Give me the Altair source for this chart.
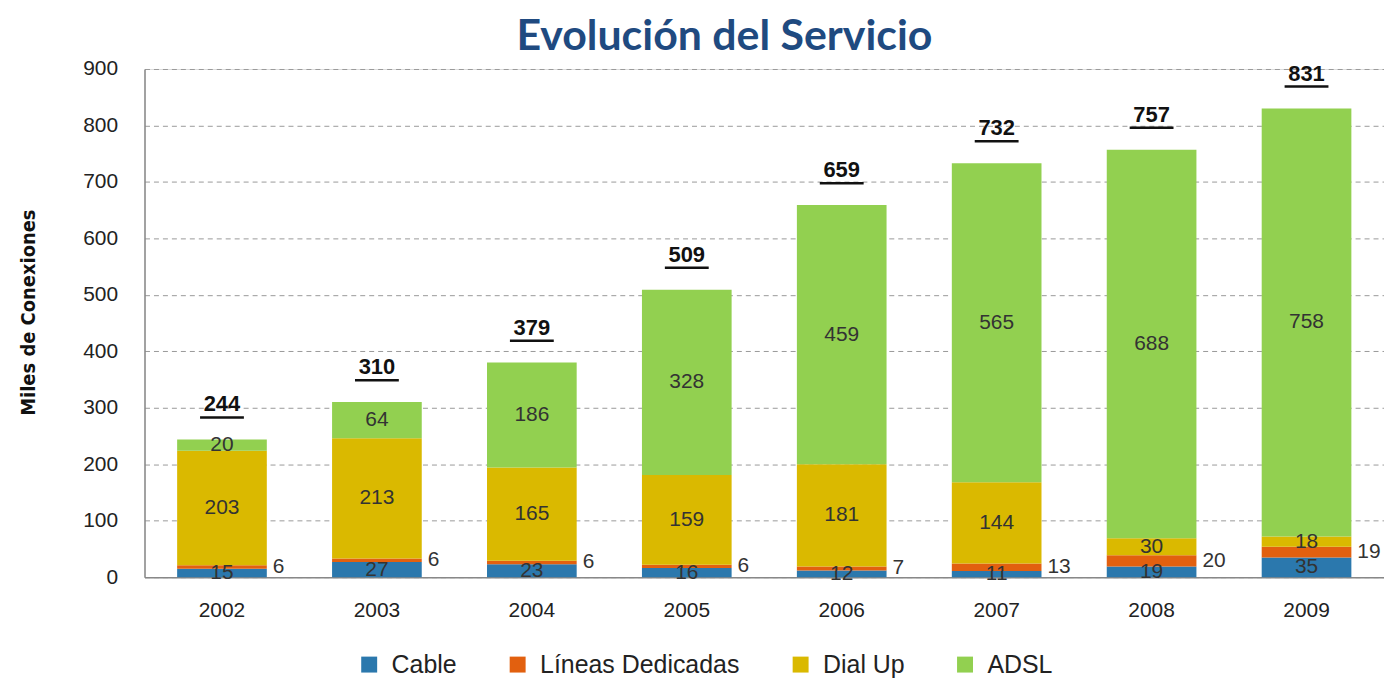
import altair as alt
import pandas as pd

years = ["2002", "2003", "2004", "2005", "2006", "2007", "2008", "2009"]
series = ["Cable", "Líneas Dedicadas", "Dial Up", "ADSL"]
cable = [15, 27, 23, 16, 12, 11, 19, 35]
lineas = [6, 6, 6, 6, 7, 13, 20, 19]
dialup = [203, 213, 165, 159, 181, 144, 30, 18]
adsl = [20, 64, 186, 328, 459, 565, 688, 758]
totals = [244, 310, 379, 509, 659, 732, 757, 831]
colors = ["#2b78ad", "#e2600f", "#dab900", "#92d050"]

rows = []
tops = []
for i, yr in enumerate(years):
    base = 0
    for k, vals in enumerate([cable, lineas, dialup, adsl]):
        v = vals[i]
        rows.append(dict(year=yr, serie=series[k], order=k, value=v,
                         y0=base, y1=base + v, mid=base + v / 2))
        base += v
    tops.append(base)
df = pd.DataFrame(rows)
tot = pd.DataFrame({"year": years, "total": totals, "top": tops})

FONT = "Liberation Sans, Arial, sans-serif"
YT = "Miles de Conexiones"

xenc = alt.X("year:N", sort=years,
             scale=alt.Scale(paddingInner=0, paddingOuter=0),
             axis=alt.Axis(title=None, labelAngle=0, ticks=False,
                           domainColor="#888888", domainWidth=1.5,
                           labelFontSize=21, labelColor="#222222",
                           labelFont=FONT, labelPadding=22))

yscale = alt.Scale(domain=[0, 900], nice=False)

bars = alt.Chart(df).mark_bar(size=90).encode(
    x=xenc,
    y=alt.Y("y0:Q", scale=yscale, title=YT,
            axis=alt.Axis(values=list(range(0, 901, 100)), ticks=False,
                          grid=True, gridDash=[5, 4], gridColor="#9a9a9a",
                          gridWidth=1, domainColor="#888888", domainWidth=1.5,
                          labelFontSize=21, labelColor="#222222", labelFont=FONT,
                          labelPadding=27,
                          titleFont="Liberation Sans Narrow, DejaVu Sans Condensed, Liberation Sans, sans-serif",
                          titleFontSize=20, titleFontWeight="bold",
                          titleColor="#111111", titleX=-106, titleY=244)),
    y2="y1:Q",
    color=alt.Color("serie:N",
                    scale=alt.Scale(domain=series, range=colors),
                    legend=alt.Legend(title=None, orient="none",
                                      direction="horizontal", columns=4,
                                      legendX=213, legendY=585,
                                      symbolType="square", symbolSize=256,
                                      symbolStrokeWidth=0, symbolOpacity=1,
                                      labelFontSize=25, labelFont=FONT,
                                      labelColor="#222222", labelLimit=400,
                                      labelOffset=10, columnPadding=48)),
    order=alt.Order("order:Q"),
)

inner = alt.Chart(df).transform_filter(
    alt.datum.serie != "Líneas Dedicadas"
).mark_text(fontSize=21, font=FONT, color="#333333", baseline="middle").encode(
    x=alt.X("year:N", sort=years),
    y=alt.Y("mid:Q", scale=yscale, title=YT),
    text="value:Q",
)

side = alt.Chart(df).transform_filter(
    alt.datum.serie == "Líneas Dedicadas"
).mark_text(fontSize=21, font=FONT, color="#333333", baseline="middle",
            align="left", dx=51).encode(
    x=alt.X("year:N", sort=years),
    y=alt.Y("mid:Q", scale=yscale, title=YT),
    text="value:Q",
)

total_text = alt.Chart(tot).mark_text(fontSize=22, font=FONT, fontWeight="bold",
                                      color="#111111", baseline="alphabetic",
                                      dy=-28).encode(
    x=alt.X("year:N", sort=years),
    y=alt.Y("top:Q", scale=yscale, title=YT),
    text="total:Q",
)

underline = alt.Chart(tot).mark_tick(thickness=2.5, size=44, yOffset=-22,
                                     color="#111111", opacity=1).encode(
    x=alt.X("year:N", sort=years),
    y=alt.Y("top:Q", scale=yscale, title=YT),
)

chart = alt.layer(bars, inner, side, total_text, underline).properties(
    width=1244, height=510,
    autosize=alt.AutoSizeParams(type="none"),
    padding={"left": 137, "top": 60, "right": 0, "bottom": 102},
    title=alt.TitleParams("Evolución del Servicio", font="Lato, Open Sans, sans-serif",
                          fontSize=43, fontWeight="bold", color="#1f4a80",
                          anchor="middle", frame="group", dx=-40, offset=1,
                          dy=2),
).configure_view(stroke=None).configure(background="white")

chart.save("out.html", embed_options={"renderer": "svg", "actions": False})
